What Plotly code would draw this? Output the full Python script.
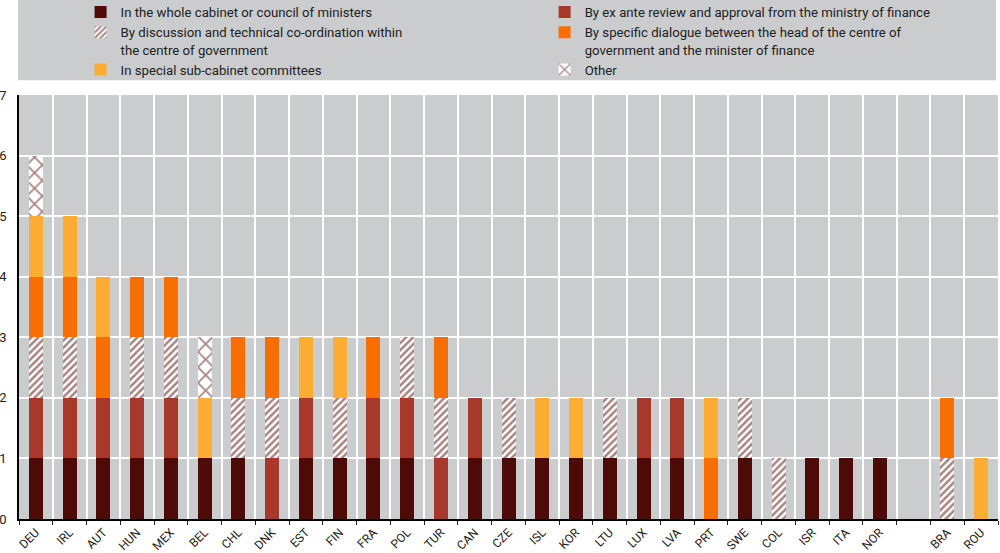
import plotly.graph_objects as go

countries = ["DEU","IRL","AUT","HUN","MEX","BEL","CHL","DNK","EST","FIN","FRA","POL","TUR",
             "CAN","CZE","ISL","KOR","LTU","LUX","LVA","PRT","SWE","COL","ISR","ITA","NOR"," ","BRA","ROU"]

whole      = [1,1,1,1,1,1,1,0,1,1,1,1,0,1,1,1,1,1,1,1,0,1,0,1,1,1,0,0,0]
exante     = [1,1,1,1,1,0,0,1,1,0,1,1,1,1,0,0,0,0,1,1,0,0,0,0,0,0,0,0,0]
discussion = [1,1,0,1,1,0,1,1,0,1,0,1,1,0,1,0,0,1,0,0,0,1,1,0,0,0,0,1,0]
dialogue   = [1,1,1,1,1,0,1,1,0,0,1,0,1,0,0,0,0,0,0,0,1,0,0,0,0,0,0,1,0]
subcab     = [1,1,1,0,0,1,0,0,1,1,0,0,0,0,0,1,1,0,0,0,1,0,0,0,0,0,0,0,1]
other      = [1,0,0,0,0,1,0,0,0,0,0,0,0,0,0,0,0,0,0,0,0,0,0,0,0,0,0,0,0]

names = [
    "In the whole cabinet or council of ministers",
    "By ex ante review and approval from the ministry of finance",
    "By discussion and technical co-ordination within<br>the centre of government",
    "By specific dialogue between the head of the centre of<br>government and the minister of finance",
    "In special sub-cabinet committees",
    "Other",
]
legend_ids = ["legend", "legend2", "legend", "legend2", "legend", "legend2"]

DARK = "#4E0A06"
RED = "#A8392A"
ORANGE = "#F76F02"
LIGHT = "#FDAD33"
GRAY = "#CBCCCE"
FONT = "Roboto, sans-serif"

fig = go.Figure()
series = [whole, exante, discussion, dialogue, subcab, other]
styles = [
    dict(color=DARK),
    dict(color=RED),
    dict(color="white", pattern=dict(shape="/", fgcolor=DARK, bgcolor="white", size=5, solidity=0.5)),
    dict(color=ORANGE),
    dict(color=LIGHT),
    dict(color="white", pattern=dict(shape="x", fgcolor=DARK, bgcolor="white", size=11, solidity=0.3)),
]
for vals, nm, st, lg in zip(series, names, styles, legend_ids):
    fig.add_trace(go.Bar(
        x=countries, y=vals, name=nm, legend=lg,
        marker=dict(line=dict(width=0), **st),
        hoverinfo="skip",
    ))

legend_common = dict(
    orientation="v",
    xanchor="left",
    y=1.2311, yanchor="top",
    bgcolor="rgba(0,0,0,0)",
    font=dict(family=FONT, size=13.2, color="#222222"),
    valign="top",
    traceorder="normal",
    tracegroupgap=0,
)

fig.update_layout(
    barmode="stack",
    bargap=0.585,
    width=1000, height=553,
    margin=dict(l=19, r=2, t=95, b=34, autoexpand=False),
    paper_bgcolor="white",
    plot_bgcolor=GRAY,
    font=dict(family=FONT, size=13, color="#222222"),
    showlegend=True,
    legend=dict(x=0.0629, **legend_common),
    legend2=dict(x=0.5369, **legend_common),
    shapes=[dict(type="rect", xref="paper", yref="paper",
                 x0=-0.001, x1=0.998, y0=1.035, y1=1.224,
                 fillcolor=GRAY, line=dict(width=0), layer="below")],
    xaxis=dict(
        type="category",
        tickangle=-45,
        tickson="boundaries",
        ticks="outside", ticklen=4, tickcolor="#222222",
        showgrid=True, gridcolor="white", gridwidth=1.5,
        showline=True, linecolor="black", linewidth=1.5,
        range=[-0.5, len(countries) - 0.5],
        tickfont=dict(size=12),
        automargin=False,
    ),
    yaxis=dict(
        range=[0, 7], dtick=1,
        showgrid=True, gridcolor="white", gridwidth=1.5,
        showline=True, linecolor="black", linewidth=1.5,
        ticks="", zeroline=False,
        ticklabelstandoff=8,
        tickfont=dict(size=13),
        automargin=False,
    ),
)

fig.write_html("out.html", config={"displayModeBar": False},
               post_script="document.body.style.margin='0';")
